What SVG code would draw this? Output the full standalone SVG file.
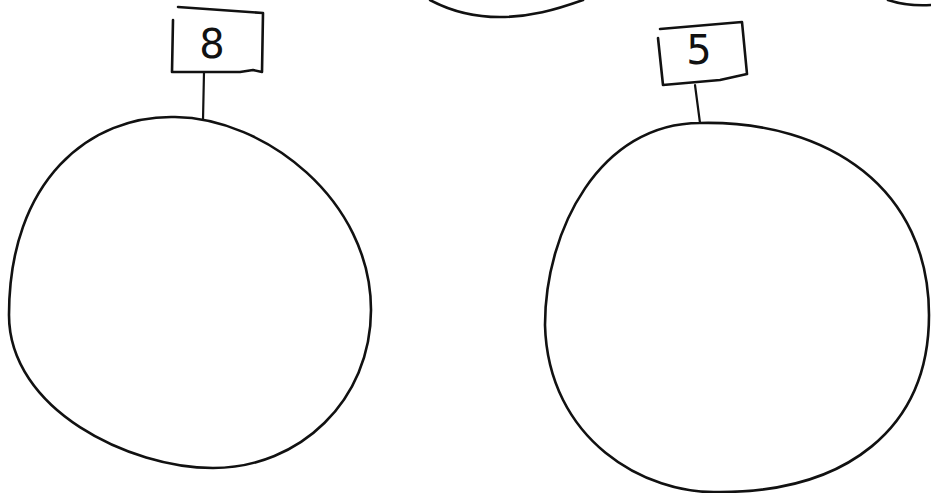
<svg xmlns="http://www.w3.org/2000/svg" width="931" height="493" viewBox="0 0 931 493">
<style>
.ln{fill:none;stroke:#111;stroke-width:2.6;stroke-linecap:round;stroke-linejoin:round}
.st{fill:none;stroke:#111;stroke-width:2.2;stroke-linecap:round}
.lbl{font-family:"DejaVu Sans","Liberation Sans",sans-serif;font-size:40px;fill:#111;text-anchor:middle}
</style>
<rect width="931" height="493" fill="#fff"/>
<g id="partial-top">
<path class="ln" d="M430,0 C445,8 470,17 500,17 C530,17 555,10 583,0"/>
<path class="ln" d="M888,0 C900,4 915,6 931,5"/>
</g>
<g id="connectors">
<path class="st" d="M204,72 L203,120"/>
<path class="st" d="M695,85 L700,123"/>
</g>
<g id="node-8">
<path class="ln" d="M178,7 L263,13 L262,72 L253,70 L240,72 L173,72"/>
<path class="ln" d="M173,20 L172,72"/>
<text class="lbl" x="212" y="58">8</text>
</g>
<g id="node-5">
<path class="ln" d="M660,29 L742,22 L747,74 L720,80 L663,85 L658,38"/>
<text class="lbl" x="699" y="64">5</text>
</g>
<g id="circle-left">
<path class="ln" d="M175,117 C265,118 371,200 371,310 C371,400 300,468 213,468 C130,468 9,410 9,315 C9,180 90,115 175,117 Z"/>
</g>
<g id="circle-right">
<path class="ln" d="M700,123 C830,120 929,190 929,315 C929,430 845,492 720,492 C645,495 548,440 545,325 C545,230 600,123 700,123 Z"/>
</g>
</svg>
